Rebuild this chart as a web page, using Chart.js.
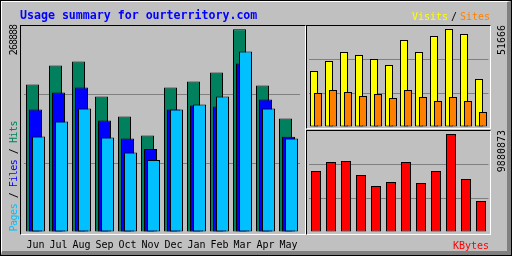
<!DOCTYPE html>
<html>
<head>
<meta charset="utf-8">
<script src="https://cdn.jsdelivr.net/npm/chart.js@4/dist/chart.umd.min.js"></script>
<style>
  html, body { margin: 0; padding: 0; background: #c0c0c0; }
  #frame {
    position: relative; width: 512px; height: 256px; overflow: hidden;
    background: #c0c0c0; font-family: "DejaVu Sans Mono", monospace;
  }
  #frame canvas { position: absolute; left: 0; top: 0; }
  .edge { position: absolute; }
  .box {
    position: absolute; box-sizing: border-box; border: 1px solid;
    border-color: #000 #fff #fff #000;
  }
  .txt { position: absolute; white-space: pre; line-height: 1; font-size: 10px; }
  .up { writing-mode: vertical-rl; transform: rotate(180deg); }
</style>
</head>
<body>
<div id="frame">
  <!-- outer bevel -->
  <div class="edge" style="left:0;top:0;width:512px;height:256px;box-sizing:border-box;border:1px solid #000"></div>
  <div class="edge" style="left:1px;top:1px;width:510px;height:254px;box-sizing:border-box;border-style:solid;border-width:1px 4px 4px 1px;border-color:#fff #808080 #808080 #fff"></div>

  <!-- panels -->
  <div class="box" style="left:20px;top:25px;width:286px;height:210px"></div>
  <div class="box" style="left:306px;top:25px;width:185px;height:104px"></div>
  <div class="box" style="left:306px;top:130px;width:185px;height:105px"></div>

  <canvas id="mainChart" width="512" height="260"></canvas>
  <canvas id="visitChart" width="512" height="256"></canvas>
  <canvas id="kbyteChart" width="512" height="256"></canvas>

  <div class="txt" style="left:20px;top:9.5px;font-size:11.6px;font-weight:bold;color:#0000ff">Usage summary for ourterritory.com</div>

  <div class="txt" style="left:412px;top:12px;color:#ffff00">Visits</div>
  <div class="txt" style="left:451px;top:12px;color:#000">/</div>
  <div class="txt" style="left:460px;top:12px;color:#ff8000">Sites</div>
  <div class="txt" style="left:453px;top:240.5px;color:#ff0000">KBytes</div>

  <div class="txt up" id="mainMaxLabel" style="left:8.8px;top:25px;letter-spacing:-1px"></div>
  <div class="txt up" style="left:8.8px;top:121px;letter-spacing:-0.5px"><span style="color:#00c0ff">Pages</span> / <span style="color:#0000ff">Files</span> / <span style="color:#00805c">Hits</span></div>
  <div class="txt up" id="visitMaxLabel" style="left:496.8px;top:25px"></div>
  <div class="txt up" id="kbyteMaxLabel" style="left:496.8px;top:130px"></div>
</div>

<script>
// ***** DATA *****
const months = ['Jun', 'Jul', 'Aug', 'Sep', 'Oct', 'Nov', 'Dec', 'Jan', 'Feb', 'Mar', 'Apr', 'May'];

const hits   = [195640, 220810, 226110, 179750, 153260, 128090, 191670, 199620, 211540, 268888, 194320, 150610];
const files  = [162530, 185040, 191670, 147960, 124120, 109940, 162530, 167830, 166500, 223460, 175780, 126230];
const pages  = [126760, 146630, 163850, 125440, 105570,  95370, 162400, 169150, 179750, 239360, 163850, 124120];

const visits = [29520, 34800, 39540, 37960, 35850, 32690, 45870, 39540, 47980, 51666, 49030, 25310];
const sites  = [17920, 19510, 18450, 16340, 17400, 15290, 19510, 15820, 13710, 15820, 13710,  7910];

const kbytes = [6150000, 7058000, 7159000, 5747000, 4638000, 5041000, 7058000, 4940000, 6150000, 9880873, 5344000, 3126000];

// max labels printed on the side of each panel
const mainMaxLabel = '268888';
const visitMaxLabel = '51666';
const kbyteMaxLabel = '9880873';

// axis tops (a bit above the tallest bar, like the original)
const mainMax = 274590;
const visitMax = 53775;
const kbyteMax = 10284180;

// ***** COLOURS *****
const hitColor = '#00805c';
const fileColor = '#0000ff';
const pageColor = '#00c0ff';
const visitColor = '#ffff00';
const siteColor = '#ff8000';
const kbyteColor = '#ff0000';

document.getElementById('mainMaxLabel').textContent = mainMaxLabel;
document.getElementById('visitMaxLabel').textContent = visitMaxLabel;
document.getElementById('kbyteMaxLabel').textContent = kbyteMaxLabel;

// ***** HELPERS *****

// hide the grid line at 0 and at the top, keep the two inner ones
function gridColor(ctx) {
  if (ctx.tick.value <= 0 || ctx.tick.value >= ctx.scale.max - 1) {
    return 'rgba(0,0,0,0)';
  }
  return '#808080';
}

function yScale(max) {
  return {
    min: 0,
    max: max,
    ticks: { display: false, stepSize: max / 3 },
    grid: { color: gridColor, drawTicks: false },
    border: { display: false }
  };
}

function barSet(label, data, color) {
  return {
    label: label,
    data: data,
    backgroundColor: color,
    borderColor: '#000',
    borderWidth: 1,
    borderSkipped: false
  };
}

// first dataset is drawn first, so later ones sit on top of it
const drawInOrder = {
  id: 'drawInOrder',
  beforeDatasetDraw() {
    return false;
  },
  afterDatasetsDraw(chart) {
    for (let i = 0; i < chart.data.datasets.length; i++) {
      chart.getDatasetMeta(i).controller.draw();
    }
  }
};

const commonOpts = {
  responsive: false,
  animation: false,
  events: [],
  plugins: { legend: { display: false }, tooltip: { enabled: false } }
};

// ***** MAIN CHART: hits / files / pages *****
// canvas is 260 tall (frame clips at 256) so the month row fits below the bars
new Chart(document.getElementById('mainChart'), {
  type: 'bar',
  data: {
    labels: months,
    datasets: [
      barSet('Hits', hits, hitColor),
      barSet('Files', files, fileColor),
      barSet('Pages', pages, pageColor)
    ]
  },
  options: {
    ...commonOpts,
    layout: { padding: { left: 24, right: 212, top: 25, bottom: 2 } },
    datasets: { bar: { categoryPercentage: 9 / 23, barPercentage: 13 / 3 } },
    scales: {
      x: {
        grid: { display: false, drawTicks: false },
        border: { display: false },
        ticks: {
          color: '#000',
          padding: 7,
          maxRotation: 0,
          autoSkip: false,
          font: { family: 'DejaVu Sans Mono', size: 10 }
        }
      },
      y: yScale(mainMax)
    }
  },
  plugins: [drawInOrder]
});

// ***** VISITS / SITES *****
new Chart(document.getElementById('visitChart'), {
  type: 'bar',
  data: {
    labels: months,
    datasets: [
      barSet('Visits', visits, visitColor),
      barSet('Sites', sites, siteColor)
    ]
  },
  options: {
    ...commonOpts,
    layout: { padding: { left: 308.5, right: 23.5, top: 25, bottom: 129 } },
    datasets: { bar: { categoryPercentage: 8 / 15, barPercentage: 2 } },
    scales: {
      x: { display: false },
      y: yScale(visitMax)
    }
  },
  plugins: [drawInOrder]
});

// ***** KBYTES *****
new Chart(document.getElementById('kbyteChart'), {
  type: 'bar',
  data: {
    labels: months,
    datasets: [barSet('KBytes', kbytes, kbyteColor)]
  },
  options: {
    ...commonOpts,
    layout: { padding: { left: 308.5, right: 23.5, top: 130, bottom: 24 } },
    datasets: { bar: { categoryPercentage: 1, barPercentage: 10 / 15 } },
    scales: {
      x: { display: false },
      y: yScale(kbyteMax)
    }
  }
});
</script>
</body>
</html>
